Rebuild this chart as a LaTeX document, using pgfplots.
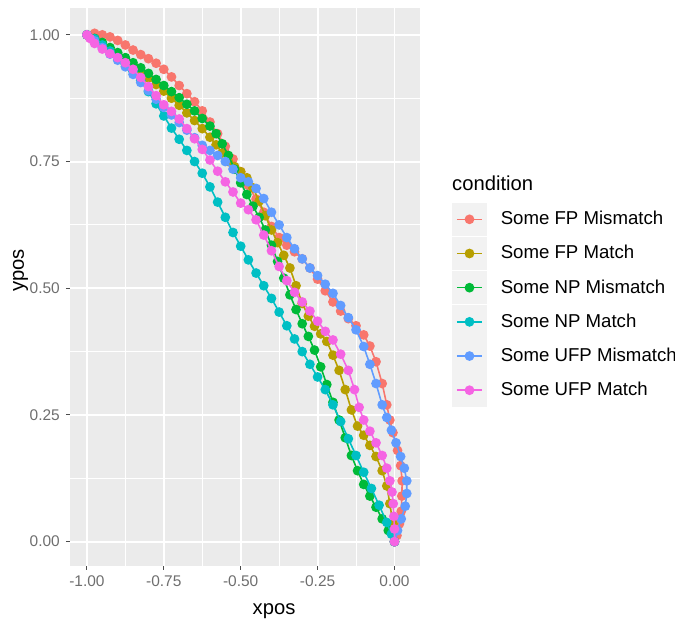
\documentclass[border=0pt]{standalone}
\usepackage{fontspec}
\setmainfont{Liberation Sans}
\usepackage{pgfplots}
\pgfplotsset{compat=1.18}
\definecolor{c1}{HTML}{F8766D}
\definecolor{c2}{HTML}{B79F00}
\definecolor{c3}{HTML}{00BA38}
\definecolor{c4}{HTML}{00BFC4}
\definecolor{c5}{HTML}{619CFF}
\definecolor{c6}{HTML}{F564E3}
\definecolor{panel}{HTML}{EBEBEB}
\definecolor{legkey}{HTML}{F2F2F2}
\definecolor{ticktext}{HTML}{6E6E6E}
\definecolor{tickgray}{HTML}{4D4D4D}

% one table per condition: xpos ypos
\pgfplotstableread{
x y
-1.000 1.000
-0.975 1.003
-0.950 1.000
-0.925 0.996
-0.900 0.989
-0.875 0.980
-0.850 0.970
-0.825 0.961
-0.800 0.953
-0.775 0.944
-0.750 0.932
-0.725 0.917
-0.700 0.900
-0.675 0.884
-0.650 0.868
-0.625 0.850
-0.600 0.828
-0.575 0.805
-0.550 0.780
-0.525 0.755
-0.500 0.730
-0.475 0.703
-0.450 0.676
-0.425 0.650
-0.400 0.622
-0.375 0.600
-0.350 0.585
-0.325 0.572
-0.300 0.558
-0.275 0.540
-0.250 0.518
-0.225 0.495
-0.200 0.473
-0.175 0.455
-0.150 0.440
-0.125 0.426
-0.100 0.408
-0.080 0.386
-0.060 0.355
-0.040 0.312
-0.025 0.270
-0.015 0.240
-0.005 0.215
0.010 0.180
0.020 0.150
0.025 0.120
0.024 0.090
0.022 0.060
0.016 0.035
0.008 0.012
0.000 0.000
}\fpmis
\pgfplotstableread{
x y
-1.000 1.000
-0.975 0.992
-0.950 0.982
-0.925 0.972
-0.900 0.961
-0.875 0.950
-0.850 0.939
-0.825 0.927
-0.800 0.915
-0.775 0.902
-0.750 0.889
-0.725 0.875
-0.700 0.861
-0.675 0.846
-0.650 0.831
-0.625 0.815
-0.600 0.798
-0.580 0.783
-0.560 0.767
-0.540 0.750
-0.520 0.740
-0.500 0.730
-0.480 0.718
-0.460 0.698
-0.440 0.672
-0.420 0.643
-0.400 0.615
-0.380 0.590
-0.360 0.565
-0.340 0.540
-0.320 0.505
-0.300 0.470
-0.280 0.445
-0.260 0.425
-0.240 0.410
-0.220 0.395
-0.200 0.368
-0.180 0.338
-0.160 0.300
-0.140 0.260
-0.120 0.228
-0.100 0.210
-0.080 0.190
-0.060 0.168
-0.040 0.140
-0.025 0.110
-0.015 0.075
-0.005 0.035
0.000 0.000
}\fpmat
\pgfplotstableread{
x y
-1.000 1.000
-0.975 0.993
-0.950 0.985
-0.925 0.975
-0.900 0.965
-0.875 0.955
-0.850 0.945
-0.825 0.935
-0.800 0.924
-0.775 0.912
-0.750 0.900
-0.725 0.888
-0.700 0.876
-0.675 0.863
-0.650 0.850
-0.625 0.835
-0.600 0.820
-0.580 0.805
-0.560 0.785
-0.540 0.762
-0.520 0.735
-0.500 0.708
-0.480 0.685
-0.460 0.662
-0.440 0.640
-0.420 0.615
-0.400 0.585
-0.380 0.553
-0.360 0.520
-0.340 0.487
-0.320 0.458
-0.300 0.430
-0.280 0.405
-0.260 0.378
-0.240 0.345
-0.220 0.310
-0.200 0.275
-0.180 0.240
-0.160 0.205
-0.140 0.170
-0.120 0.140
-0.100 0.113
-0.080 0.090
-0.060 0.068
-0.040 0.045
-0.020 0.022
0.000 0.000
}\npmis
\pgfplotstableread{
x y
-1.000 1.000
-0.975 0.992
-0.950 0.980
-0.925 0.968
-0.900 0.955
-0.875 0.942
-0.850 0.928
-0.825 0.910
-0.800 0.888
-0.775 0.864
-0.750 0.840
-0.725 0.816
-0.700 0.794
-0.675 0.772
-0.650 0.750
-0.625 0.727
-0.600 0.700
-0.575 0.670
-0.550 0.640
-0.525 0.610
-0.500 0.583
-0.475 0.556
-0.450 0.530
-0.425 0.505
-0.400 0.480
-0.375 0.453
-0.350 0.426
-0.325 0.400
-0.300 0.375
-0.275 0.350
-0.250 0.325
-0.225 0.300
-0.200 0.270
-0.175 0.237
-0.150 0.203
-0.125 0.170
-0.100 0.137
-0.075 0.105
-0.050 0.072
-0.025 0.038
-0.010 0.015
0.000 0.000
}\npmat
\pgfplotstableread{
x y
-1.000 1.000
-0.975 0.988
-0.950 0.975
-0.925 0.962
-0.900 0.950
-0.875 0.937
-0.850 0.922
-0.825 0.906
-0.800 0.890
-0.775 0.873
-0.750 0.857
-0.725 0.842
-0.700 0.827
-0.675 0.812
-0.650 0.797
-0.625 0.782
-0.600 0.772
-0.575 0.762
-0.550 0.750
-0.525 0.735
-0.500 0.718
-0.475 0.710
-0.450 0.697
-0.425 0.677
-0.400 0.650
-0.375 0.625
-0.350 0.600
-0.325 0.578
-0.300 0.558
-0.275 0.540
-0.250 0.525
-0.225 0.508
-0.200 0.490
-0.175 0.466
-0.150 0.442
-0.125 0.418
-0.100 0.385
-0.080 0.350
-0.060 0.312
-0.040 0.270
-0.025 0.245
-0.010 0.220
0.005 0.195
0.020 0.168
0.032 0.145
0.040 0.120
0.040 0.095
0.035 0.070
0.022 0.045
0.010 0.022
0.000 0.000
}\ufpmis
\pgfplotstableread{
x y
-1.000 1.000
-0.990 0.993
-0.975 0.983
-0.950 0.972
-0.925 0.963
-0.900 0.955
-0.875 0.945
-0.850 0.932
-0.825 0.916
-0.800 0.898
-0.775 0.880
-0.750 0.862
-0.725 0.849
-0.700 0.834
-0.675 0.815
-0.650 0.795
-0.625 0.774
-0.600 0.753
-0.575 0.731
-0.550 0.710
-0.525 0.690
-0.500 0.668
-0.475 0.655
-0.450 0.635
-0.425 0.605
-0.400 0.574
-0.375 0.543
-0.350 0.515
-0.325 0.492
-0.300 0.473
-0.275 0.455
-0.250 0.435
-0.225 0.415
-0.200 0.398
-0.175 0.370
-0.150 0.338
-0.130 0.300
-0.115 0.265
-0.100 0.240
-0.080 0.218
-0.060 0.195
-0.040 0.170
-0.025 0.145
-0.015 0.120
-0.008 0.098
-0.004 0.075
-0.002 0.050
0.000 0.025
0.000 0.000
}\ufpmat

\begin{document}
\begin{tikzpicture}
\useasboundingbox (0,0) rectangle (13.5cm,12.42cm);
\begin{axis}[
  at={(1.4cm,1.1cm)}, anchor=south west,
  scale only axis, width=7cm, height=11.16cm,
  xmin=-1.055, xmax=0.083, ymin=-0.048, ymax=1.053,
  clip mode=individual,
  xtick={-1,-0.75,-0.5,-0.25,0},
  xticklabels={-1.00,-0.75,-0.50,-0.25,0.00},
  ytick={0,0.25,0.5,0.75,1},
  yticklabels={0.00,0.25,0.50,0.75,1.00},
  minor tick num=1,
  grid=both,
  major grid style={white, line width=1.1pt},
  minor grid style={white, line width=0.5pt},
  axis background/.style={fill=panel},
  axis line style={draw=none},
  tick align=outside,
  xtick pos=bottom, ytick pos=left,
  major tick length=0.08cm, minor tick length=0pt,
  major tick style={tickgray, line width=0.6pt},
  tick label style={font=\fontsize{8.8}{10}\selectfont, text=ticktext},
  xlabel={xpos},
  xlabel style={at={(axis description cs:0.583,0)}, anchor=center, yshift=-0.9cm,
    font=\fontsize{11.5}{13}\selectfont},
  ylabel={ypos},
  ylabel style={at={(axis description cs:-0.132,0.53)}, anchor=base,
    font=\fontsize{11.5}{13}\selectfont},
  every axis plot/.append style={mark=*, mark size=2.3pt, line width=0.9pt},
  legend cell align=left,
  legend style={at={(axis description cs:1.091,0.652)}, anchor=north west,
    draw=none, fill=none, inner sep=0pt, row sep=0.012cm, column sep=0.28cm,
    font=\fontsize{10.6}{12}\selectfont,
    nodes={inner sep=0pt}},
  legend image code/.code={
    \fill[legkey] (0cm,-0.32cm) rectangle (0.66cm,0.32cm);
    \draw[mark repeat=2,mark phase=2,#1] plot coordinates {(0.08cm,0cm) (0.33cm,0cm) (0.58cm,0cm)};
  },
]
\addplot[color=c1] table[x=x,y=y] {\fpmis};
\addlegendentry{Some FP Mismatch}
\addplot[color=c2] table[x=x,y=y] {\fpmat};
\addlegendentry{Some FP Match}
\addplot[color=c3] table[x=x,y=y] {\npmis};
\addlegendentry{Some NP Mismatch}
\addplot[color=c4] table[x=x,y=y] {\npmat};
\addlegendentry{Some NP Match}
\addplot[color=c5] table[x=x,y=y] {\ufpmis};
\addlegendentry{Some UFP Mismatch}
\addplot[color=c6] table[x=x,y=y] {\ufpmat};
\addlegendentry{Some UFP Match}
\node[anchor=west, inner sep=0pt, font=\fontsize{11.5}{13}\selectfont] at (axis description cs:1.091,0.686) {condition};
\end{axis}
\end{tikzpicture}
\end{document}
